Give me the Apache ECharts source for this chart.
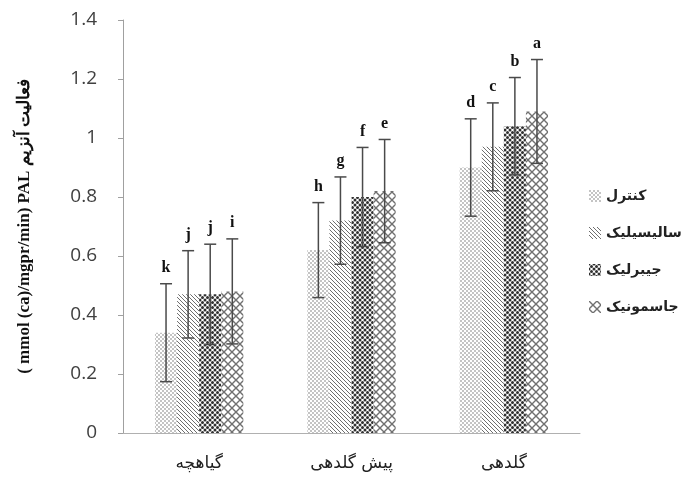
<!DOCTYPE html>
<html><head><meta charset="utf-8">
<script src="https://cdn.jsdelivr.net/npm/echarts@6/dist/echarts.min.js"></script>
<style>html,body{margin:0;padding:0;background:#fff}#c{width:690px;height:483px}</style>
</head><body><div id="c"></div>
<script>
const categories = ['گیاهچه', 'پیش گلدهی', 'گلدهی'];
const seriesNames = ['کنترل', 'سالیسیلیک', 'جیبرلیک', 'جاسمونیک'];
const control = [0.34, 0.62, 0.90];
const salicylic = [0.47, 0.72, 0.97];
const gibberellic = [0.47, 0.80, 1.04];
const jasmonic = [0.48, 0.82, 1.09];
const controlErr = [0.166, 0.161, 0.165];
const salicylicErr = [0.148, 0.148, 0.149];
const gibberellicErr = [0.17, 0.168, 0.165];
const jasmonicErr = [0.178, 0.175, 0.176];
const controlLetters = ['k', 'h', 'd'];
const salicylicLetters = ['j', 'g', 'c'];
const gibberellicLetters = ['j', 'f', 'b'];
const jasmonicLetters = ['i', 'e', 'a'];
const yTicks = [0, 0.2, 0.4, 0.6, 0.8, 1, 1.2, 1.4];

const values = [control, salicylic, gibberellic, jasmonic];
const errs = [controlErr, salicylicErr, gibberellicErr, jasmonicErr];
const letters = [controlLetters, salicylicLetters, gibberellicLetters, jasmonicLetters];

function pat(w, h, draw) {
  const c = document.createElement('canvas');
  c.width = w; c.height = h;
  const g = c.getContext('2d');
  g.fillStyle = '#fff'; g.fillRect(0, 0, w, h);
  draw(g);
  return { image: c, repeat: 'repeat' };
}
const patterns = [
  pat(4, 4, g => { g.fillStyle = '#c4c4c4'; g.fillRect(0, 0, 2, 2); g.fillRect(2, 2, 2, 2); }),
  pat(4, 4, g => {
    g.fillStyle = '#6e6e6e';
    for (let i = 0; i < 4; i++) g.fillRect(i, i, 1, 1);
  }),
  pat(5, 5, g => {
    g.fillStyle = '#303030';
    [[0, 0], [5, 0], [0, 5], [5, 5], [2.5, 2.5]].forEach(p => { g.beginPath(); g.arc(p[0], p[1], 1.5, 0, Math.PI * 2); g.fill(); });
  }),
  pat(8, 8, g => {
    g.strokeStyle = '#707070'; g.lineWidth = 1.4;
    g.beginPath();
    g.moveTo(0, 0); g.lineTo(8, 8);
    g.moveTo(8, 0); g.lineTo(0, 8);
    g.stroke();
  })
];

const BCG = 0.42;
const barSeries = seriesNames.map((n, i) => ({
  name: n, type: 'bar', data: values[i],
  barGap: '0%', barCategoryGap: (BCG * 100) + '%',
  itemStyle: { color: patterns[i] }
}));

const errData = [];
for (let s = 0; s < 4; s++) for (let c = 0; c < 3; c++) errData.push([c, s, values[s][c], errs[s][c]]);

const chart = echarts.init(document.getElementById('c'));
chart.setOption({
  animation: false,
  backgroundColor: '#fff',
  grid: { left: 123, right: 110, top: 20, bottom: 50 },
  legend: {
    orient: 'vertical', left: 584, top: 184, itemGap: 23,
    itemWidth: 12, itemHeight: 12, icon: 'rect',
    data: seriesNames,
    textStyle: { fontFamily: 'DejaVu Sans', fontSize: 14, fontWeight: 'bold', color: '#222' }
  },
  xAxis: {
    type: 'category', data: categories,
    axisLine: { lineStyle: { color: '#b0b0b0', width: 1 } },
    axisTick: { show: false },
    axisLabel: { margin: 22, fontFamily: 'DejaVu Sans', fontSize: 17, color: '#222' }
  },
  yAxis: {
    type: 'value', min: 0, max: 1.4, interval: 0.2,
    splitLine: { show: false },
    axisLine: { show: true, lineStyle: { color: '#a0a0a0' } },
    axisTick: { show: true, length: 5, lineStyle: { color: '#a0a0a0' } },
    axisLabel: { margin: 26, fontFamily: 'Open Sans', fontSize: 19, color: '#404040',
      formatter: v => { const t = yTicks.find(x => Math.abs(x - v) < 1e-9); return String(t !== undefined ? t : v); } },
    name: '( mmol (ca)/mgpr/min) PAL فعالیت آنزیم',
    nameLocation: 'middle', nameGap: 90,
    nameTextStyle: { fontFamily: 'Liberation Serif', fontWeight: 'bold', fontSize: 17, color: '#111' }
  },
  series: barSeries.concat([{
    type: 'custom', z: 10, silent: true,
    data: errData,
    encode: { x: 0, y: 2 },
    renderItem: (params, api) => {
      const cat = api.value(0), s = api.value(1), v = api.value(2), e = api.value(3);
      const band = api.size([1, 0])[0];
      const bw = band * (1 - BCG) / 4;
      const c = api.coord([cat, v]);
      const x = c[0] + (s - 1.5) * bw;
      const yt = api.coord([cat, v + e])[1];
      const yb = api.coord([cat, v - e])[1];
      const cap = 6;
      const st = { stroke: '#4a4a4a', lineWidth: 1.5 };
      return {
        type: 'group', children: [
          { type: 'line', shape: { x1: x, y1: yt, x2: x, y2: yb }, style: st },
          { type: 'line', shape: { x1: x - cap, y1: yt, x2: x + cap, y2: yt }, style: st },
          { type: 'line', shape: { x1: x - cap, y1: yb, x2: x + cap, y2: yb }, style: st },
          { type: 'text', style: { x: x, y: yt - 8, text: letters[s][cat], align: 'center', verticalAlign: 'bottom',
            font: 'bold 16px "Liberation Serif"', fill: '#111' } }
        ]
      };
    }
  }])
});
</script></body></html>
